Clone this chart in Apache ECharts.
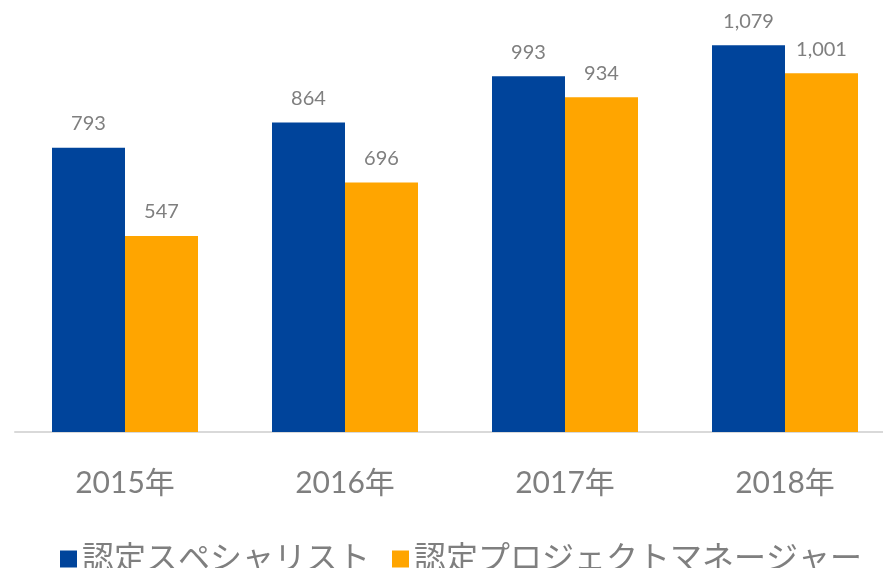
<!DOCTYPE html>
<html>
<head>
<meta charset="utf-8">
<script src="https://cdn.jsdelivr.net/npm/echarts@6/dist/echarts.min.js"></script>
<style>
  html, body { margin: 0; padding: 0; background: #fff; overflow: hidden; }
  #main { width: 895px; height: 568px; }
</style>
</head>
<body>
<div id="main"></div>
<script>
const categories = ['2015年', '2016年', '2017年', '2018年'];
const seriesNames = ['認定スペシャリスト', '認定プロジェクトマネージャー'];
const specialists = [793, 864, 993, 1079];
const managers = [547, 696, 934, 1001];

const fontFamily = 'Lato, "Noto Sans CJK JP", sans-serif';
const labelColor = '#7f7f7f';

const chart = echarts.init(document.getElementById('main'));

const valueLabel = {
    show: true,
    position: 'top',
    distance: 14,
    color: labelColor,
    fontSize: 20,
    fontFamily: fontFamily,
    formatter: function (p) {
        return p.value.toLocaleString('en-US');
    }
};

const option = {
    backgroundColor: '#fff',
    animation: false,
    color: ['#00449b', '#ffa500'],
    grid: {
        left: 15,
        right: 0,
        top: 2,
        bottom: 136
    },
    legend: {
        data: seriesNames,
        left: 55,
        bottom: -12,
        itemWidth: 17,
        itemHeight: 17,
        itemGap: 22,
        icon: 'rect',
        textStyle: {
            color: labelColor,
            fontSize: 32,
            fontFamily: fontFamily
        }
    },
    xAxis: {
        type: 'category',
        data: categories,
        axisLine: { lineStyle: { color: '#d9d9d9', width: 2 } },
        axisTick: { show: false },
        axisLabel: {
            color: labelColor,
            fontSize: 30,
            fontFamily: fontFamily,
            margin: 36
        }
    },
    yAxis: {
        type: 'value',
        min: 0,
        max: 1200,
        show: false,
        splitLine: { show: false }
    },
    series: [{
        name: seriesNames[0],
        type: 'bar',
        data: specialists,
        barWidth: 73,
        barGap: '0%',
        label: valueLabel
    }, {
        name: seriesNames[1],
        type: 'bar',
        data: managers,
        barWidth: 73,
        barGap: '0%',
        label: valueLabel
    }]
};

chart.setOption(option);
</script>
</body>
</html>
